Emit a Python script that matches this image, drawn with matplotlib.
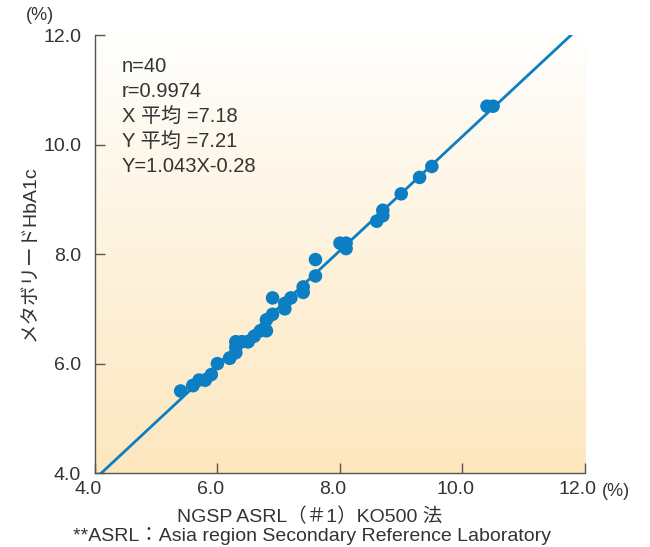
import numpy as np
import matplotlib.pyplot as plt
import matplotlib.transforms as mtransforms

plt.rcParams['font.family'] = ['Liberation Sans', 'Noto Sans CJK JP', 'DejaVu Sans']

# data
ngsp = [5.4, 5.6, 5.7, 5.8, 5.9, 6.0, 6.2, 6.3, 6.3, 6.4, 6.5, 6.6, 6.8, 6.8,
        6.9, 7.1, 7.1, 7.2, 7.4, 7.4, 7.6, 7.6, 8.0, 8.1, 8.1, 8.6, 8.7, 8.7,
        9.0, 9.3, 9.5, 10.4, 10.5,
        5.6, 5.8, 6.2, 6.3, 6.5, 6.7, 6.9]
metabo = [5.5, 5.6, 5.7, 5.7, 5.8, 6.0, 6.1, 6.2, 6.4, 6.4, 6.4, 6.5, 6.6, 6.8,
          7.2, 7.0, 7.1, 7.2, 7.3, 7.4, 7.6, 7.9, 8.2, 8.2, 8.1, 8.6, 8.7, 8.8,
          9.1, 9.4, 9.6, 10.7, 10.7,
          5.6, 5.7, 6.1, 6.3, 6.4, 6.6, 6.9]
slope, intercept = 1.043, -0.28
ticks = [4.0, 6.0, 8.0, 10.0, 12.0]
stats = ['n=40', 'r=0.9974', 'X 平均 =7.18', 'Y 平均 =7.21', 'Y=1.043X-0.28']

blue = '#0b7ec4'
txt = '#333333'

fig = plt.figure(figsize=(6.5, 5.47), dpi=100)
ax = fig.add_axes([0.146, 0.135, 0.754, 0.801])

# white-to-orange gradient background (white at top)
grad = np.linspace(0, 1, 256).reshape(-1, 1)
top = np.array([1.0, 0.998, 0.99])
bot = np.array([0.99, 0.905, 0.745])
img = top + (bot - top) * grad[:, :, None]
ax.imshow(img, extent=[4, 12, 4, 12], origin='upper', aspect='auto', zorder=0)

xs = np.array([4.0, 12.0])
ax.plot(xs, slope * xs + intercept, color=blue, lw=2, zorder=2)
ax.scatter(ngsp, metabo, s=95, color=blue, edgecolors='none', zorder=3)

ax.set_xlim(4, 12)
ax.set_ylim(4, 12)
ax.set_xticks(ticks)
ax.set_yticks(ticks)
ax.set_xticklabels(['%.1f' % t for t in ticks], fontsize=14)
ax.set_yticklabels(['%.1f' % t for t in ticks], fontsize=14)
ax.tick_params(direction='in', length=7, width=1, color='#555555',
               labelcolor=txt)
ax.tick_params(axis='x', pad=6)
ax.tick_params(axis='y', pad=10)
off = mtransforms.ScaledTranslation(-0.07, 0, fig.dpi_scale_trans)
for lab in ax.get_xticklabels():
    lab.set_transform(lab.get_transform() + off)

for s in ['top', 'right']:
    ax.spines[s].set_visible(False)
for s in ['left', 'bottom']:
    ax.spines[s].set_color('#555555')
    ax.spines[s].set_linewidth(1)

for i, t in enumerate(stats):
    ax.text(0.055, 0.927 - i * 0.057, t, transform=ax.transAxes, fontsize=14.5,
            color=txt, va='center', ha='left')

fig.text(40 / 650, 1 - 16 / 547, '(%)', fontsize=13, color=txt,
         ha='center', va='center')
fig.text(616 / 650, 1 - 492 / 547, '(%)', fontsize=13, color=txt,
         ha='center', va='center')
fig.text(30 / 650, 1 - 253 / 547, 'メタボリードHbA1c', rotation=90, fontsize=14,
         color=txt, ha='center', va='center')
fig.text(310 / 650, 1 - 517 / 547, 'NGSP ASRL（＃1）KO500 法', fontsize=14,
         color=txt, ha='center', va='center')
fig.text(312 / 650, 1 - 536 / 547,
         '**ASRL：Asia region Secondary Reference Laboratory', fontsize=14,
         color=txt, ha='center', va='center')

fig.savefig('out.png', dpi=100)
